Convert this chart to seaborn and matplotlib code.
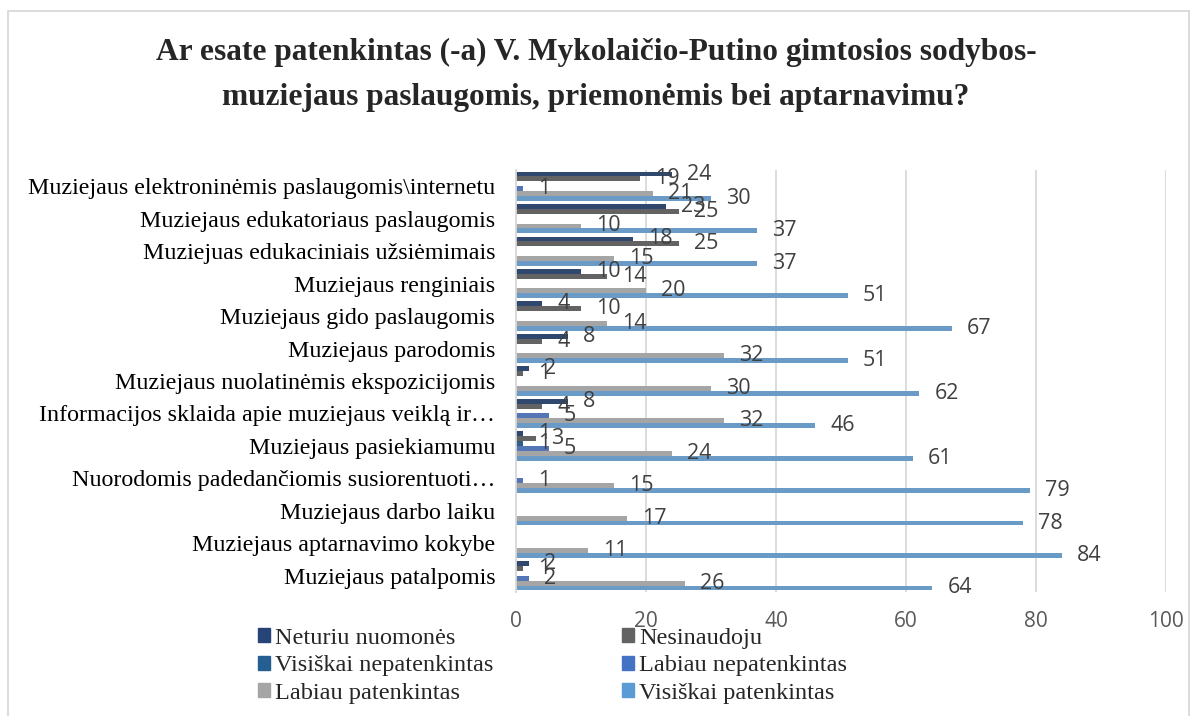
import numpy as np
import pandas as pd
import matplotlib
matplotlib.use('Agg')
from matplotlib import pyplot as plt
from matplotlib.patches import Rectangle, Patch
import seaborn as sns

# Data, categories listed top to bottom
categories = [
    'Muziejaus elektroninėmis paslaugomis\\internetu',
    'Muziejaus edukatoriaus paslaugomis',
    'Muziejuas edukaciniais užsiėmimais',
    'Muziejaus renginiais',
    'Muziejaus gido paslaugomis',
    'Muziejaus parodomis',
    'Muziejaus nuolatinėmis ekspozicijomis',
    'Informacijos sklaida apie muziejaus veiklą ir…',
    'Muziejaus pasiekiamumu',
    'Nuorodomis padedančiomis susiorentuoti…',
    'Muziejaus darbo laiku',
    'Muziejaus aptarnavimo kokybe',
    'Muziejaus patalpomis',
]
series = ['Neturiu nuomonės', 'Nesinaudoju', 'Visiškai nepatenkintas',
          'Labiau nepatenkintas', 'Labiau patenkintas', 'Visiškai patenkintas']

neturiu = [24, 23, 18, 10, 4, 8, 2, 8, 1, 0, 0, 0, 2]
nesinaudoju = [19, 25, 25, 14, 10, 4, 1, 4, 3, 0, 0, 0, 1]
visiskai_nepat = [0, 0, 0, 0, 0, 0, 0, 0, 1, 0, 0, 0, 0]
labiau_nepat = [1, 0, 0, 0, 0, 0, 0, 5, 5, 1, 0, 0, 2]
labiau_pat = [21, 10, 15, 20, 14, 32, 30, 32, 24, 15, 17, 11, 26]
visiskai_pat = [30, 37, 37, 51, 67, 51, 62, 46, 61, 79, 78, 84, 64]

values = [neturiu, nesinaudoju, visiskai_nepat, labiau_nepat, labiau_pat, visiskai_pat]
colors = ['#264478', '#636363', '#255E91', '#4472C4', '#A5A5A5', '#5B9BD5']

rows = []
for s, vals in zip(series, values):
    for c, v in zip(categories, vals):
        rows.append({'Kategorija': c, 'Serija': s, 'Reiksme': v})
df = pd.DataFrame(rows)

sns.set_style('white')
serif = ['Liberation Serif', 'DejaVu Serif']
sans = ['Open Sans', 'DejaVu Sans']

fig = plt.figure(figsize=(11.92, 7.16), dpi=100)
ax = fig.add_axes([516/1192, 1-592/716, 650/1192, 422/716])

sns.barplot(data=df, y='Kategorija', x='Reiksme', hue='Serija', order=categories,
            hue_order=series, palette=colors, orient='h', width=0.9, gap=0,
            errorbar=None, legend=False, linewidth=0, ax=ax)

for cont, vals in zip(ax.containers, values):
    labels = [str(v) if v else '' for v in vals]
    ax.bar_label(cont, labels=labels, padding=11, fontsize=15.5, color='#404040',
                 family=sans)

ax.set_xlim(0, 100)
ax.set_xticks(range(0, 101, 20))
ax.grid(axis='x', color='#D9D9D9', linewidth=1.3)
ax.set_axisbelow(True)
for side in ['top', 'right', 'bottom']:
    ax.spines[side].set_visible(False)
ax.spines['left'].set_color('#D9D9D9')
ax.spines['left'].set_linewidth(1.3)
ax.set_xlabel('')
ax.set_ylabel('')
ax.tick_params(axis='x', length=0, pad=14, labelsize=15, labelcolor='#595959')
ax.tick_params(axis='y', length=0, pad=15)
for lbl in ax.get_xticklabels():
    lbl.set_family(sans)
for lbl in ax.get_yticklabels():
    lbl.set_family(serif)
    lbl.set_fontsize(17.3)
    lbl.set_color('black')

# title
fig.text(0.5, 1-52/716, 'Ar esate patenkintas (-a) V. Mykolaičio-Putino gimtosios sodybos-',
         ha='center', va='center', fontsize=22.6, fontweight='bold', family=serif)
fig.text(0.5, 1-97/716, 'muziejaus paslaugomis, priemonėmis bei aptarnavimu?',
         ha='center', va='center', fontsize=22.6, fontweight='bold', family=serif)

# legend (filled column-wise)
handles = [Patch(color=colors[i], label=series[i]) for i in [0, 2, 4, 1, 3, 5]]
fig.legend(handles=handles, loc='upper left', bbox_to_anchor=(258/1192, 1-628/716),
           ncol=2, frameon=False, prop={'family': serif, 'size': 17.5},
           handlelength=0.5, handleheight=0.5, handletextpad=0.2,
           labelspacing=0.26, columnspacing=5.3, borderpad=0, borderaxespad=0)

# chart border
fig.patches.append(Rectangle((8/1192, -0.01), 1181/1192, 1-11/716 + 0.01,
                             transform=fig.transFigure, fill=False,
                             edgecolor='#D9D9D9', linewidth=1.3))

fig.savefig('out.png', dpi=100)
